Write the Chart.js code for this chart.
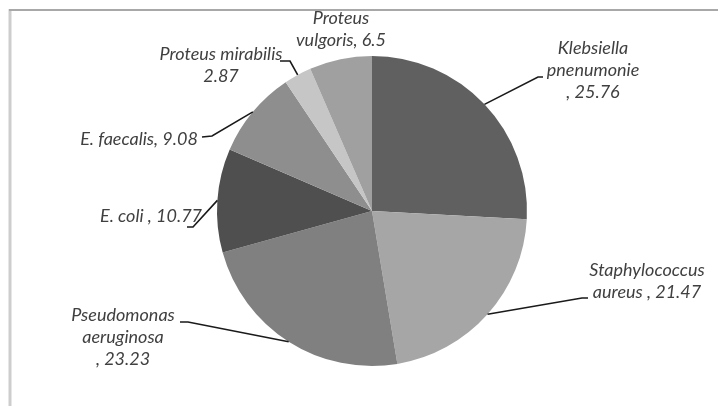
<!DOCTYPE html>
<html>
<head>
<meta charset="utf-8">
<script src="https://cdn.jsdelivr.net/npm/chart.js@4/dist/chart.umd.min.js"></script>
<style>
  html, body { margin: 0; padding: 0; background: #fff; }
  #wrap { width: 718px; height: 406px; position: relative; }
</style>
</head>
<body>
<div id="wrap"><canvas id="c" width="718" height="406"></canvas></div>
<script>
// Isolated bacteria, percentage share
const categories = [
  'Klebsiella pnenumonie',
  'Staphylococcus aureus',
  'Pseudomonas aeruginosa',
  'E. coli',
  'E. faecalis',
  'Proteus mirabilis',
  'Proteus vulgoris'
];
const values = [25.76, 21.47, 23.23, 10.77, 9.08, 2.87, 6.5];
const sliceColors = ['#606060', '#a6a6a6', '#808080', '#4f4f4f', '#8e8e8e', '#c6c6c6', '#a0a0a0'];

// Label text lines per slice (the value is appended from the data)
const labelLines = [
  ['Klebsiella', 'pnenumonie', ', {v}'],
  ['Staphylococcus', 'aureus , {v}'],
  ['Pseudomonas', 'aeruginosa', ', {v}'],
  ['E. coli , {v}'],
  ['E. faecalis, {v}'],
  ['Proteus mirabilis', '{v}'],
  ['Proteus', 'vulgoris, {v}']
];

// Label placement: text centre x, first baseline y, elbow point of leader line, tail end
const labelLayout = [
  { x: 593, y: 54,  elbow: [538, 77],  tail: [543, 77] },
  { x: 647, y: 276, elbow: [582, 298], tail: [588, 298] },
  { x: 123, y: 321, elbow: [188, 322], tail: [180, 322] },
  { x: 151, y: 222, elbow: [193, 227], tail: [187, 227] },
  { x: 139, y: 145, elbow: [212, 136], tail: [202, 137] },
  { x: 221, y: 60,  elbow: [290, 61],  tail: [280, 61] },
  { x: 341, y: 24,  elbow: null,       tail: null }
];

const frame = {
  id: 'frame',
  beforeDraw(chart) {
    const ctx = chart.ctx;
    ctx.save();
    ctx.fillStyle = '#ffffff';
    ctx.fillRect(0, 0, chart.width, chart.height);
    ctx.strokeStyle = '#cdcdcd';
    ctx.lineWidth = 3;
    ctx.beginPath();
    ctx.moveTo(10, 9);
    ctx.lineTo(10, chart.height);
    ctx.stroke();
    ctx.strokeStyle = '#a8a8a8';
    ctx.lineWidth = 2;
    ctx.beginPath();
    ctx.moveTo(9, 10);
    ctx.lineTo(chart.width, 10);
    ctx.stroke();
    ctx.restore();
  }
};

const sliceLabels = {
  id: 'sliceLabels',
  afterDatasetsDraw(chart) {
    const ctx = chart.ctx;
    const meta = chart.getDatasetMeta(0);
    ctx.save();
    meta.data.forEach((arc, i) => {
      const lay = labelLayout[i];
      const mid = (arc.startAngle + arc.endAngle) / 2;
      const ex = arc.x + Math.cos(mid) * arc.outerRadius;
      const ey = arc.y + Math.sin(mid) * arc.outerRadius;
      if (lay.elbow) {
        ctx.strokeStyle = '#1a1a1a';
        ctx.lineWidth = 1.6;
        ctx.beginPath();
        ctx.moveTo(ex, ey);
        ctx.lineTo(lay.elbow[0], lay.elbow[1]);
        ctx.lineTo(lay.tail[0], lay.tail[1]);
        ctx.stroke();
      }
      ctx.fillStyle = '#404040';
      ctx.font = 'italic 18px Lato, sans-serif';
      ctx.textAlign = 'center';
      ctx.textBaseline = 'alphabetic';
      labelLines[i].forEach((ln, k) => {
        ctx.fillText(ln.replace('{v}', String(values[i])), lay.x, lay.y + k * 22);
      });
    });
    ctx.restore();
  }
};

new Chart(document.getElementById('c'), {
  type: 'pie',
  data: {
    labels: categories,
    datasets: [{
      data: values,
      backgroundColor: sliceColors,
      borderWidth: 0
    }]
  },
  options: {
    responsive: false,
    animation: false,
    layout: { padding: { left: 217, right: 191, top: 56, bottom: 40 } },
    plugins: {
      legend: { display: false },
      tooltip: { enabled: false }
    }
  },
  plugins: [frame, sliceLabels]
});
</script>
</body>
</html>
